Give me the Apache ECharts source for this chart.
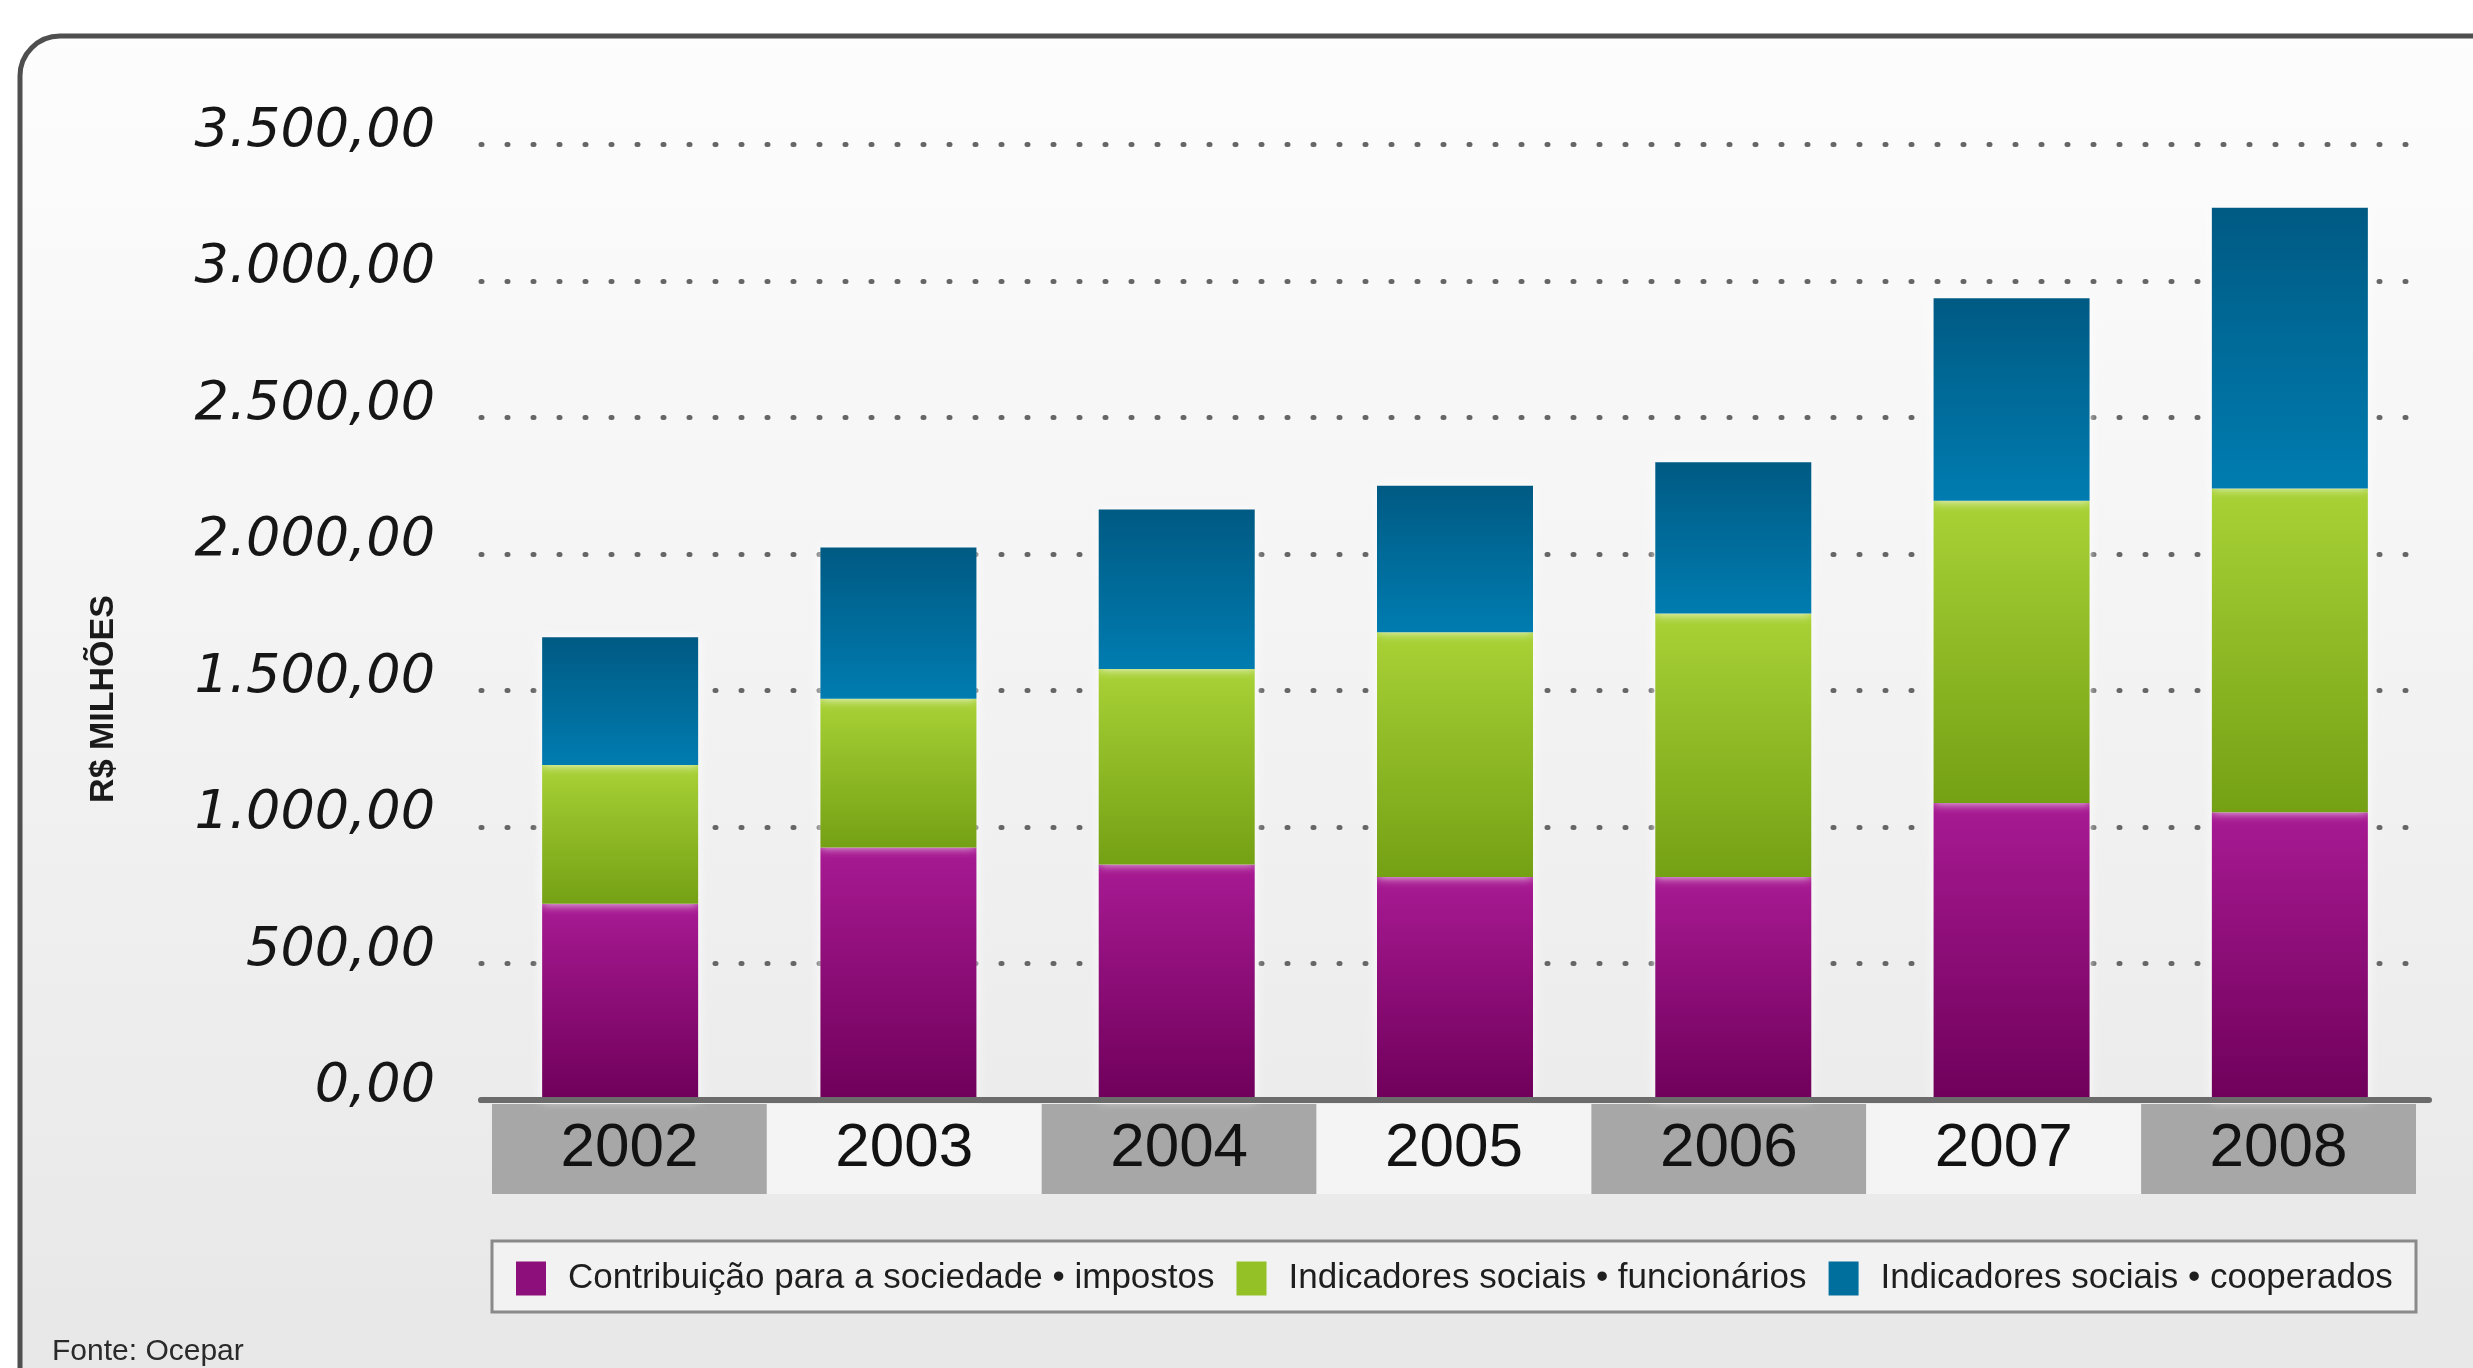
<!DOCTYPE html>
<html>
<head>
<meta charset="utf-8">
<script src="https://cdn.jsdelivr.net/npm/echarts@6/dist/echarts.min.js"></script>
<style>
  html, body { margin: 0; padding: 0; background: #ffffff; }
  #chart { width: 2473px; height: 1368px; }
</style>
</head>
<body>
<div id="chart"></div>
<script>
// Years on the category axis
const years = ['2002', '2003', '2004', '2005', '2006', '2007', '2008'];

// Series names (legend order = stack order, bottom to top)
const seriesNames = [
  'Contribuição para a sociedade • impostos',
  'Indicadores sociais • funcionários',
  'Indicadores sociais • cooperados'
];

// Values in R$ millions
const impostos     = [719, 925, 863, 817, 817, 1088, 1054];
const funcionarios = [508, 545, 716, 896, 965, 1107, 1186];
const cooperados   = [468, 554, 584, 537, 554, 742, 1028];

// Value-axis ticks and their Brazilian-formatted labels
const yTicks      = [0, 500, 1000, 1500, 2000, 2500, 3000, 3500];
const yTickLabels = ['0,00', '500,00', '1.000,00', '1.500,00', '2.000,00', '2.500,00', '3.000,00', '3.500,00'];

const axisName = 'R$ MILHÕES';
const sourceText = 'Fonte: Ocepar';

function vGrad(top, bottom) {
  return {
    type: 'linear', x: 0, y: 0, x2: 0, y2: 1,
    colorStops: [{ offset: 0, color: top }, { offset: 1, color: bottom }]
  };
}

const barFills = [
  vGrad('#a81a93', '#6f005a'),
  vGrad('#a9d236', '#74a014'),
  vGrad('#005a83', '#007cb0')
];
const legendColors = ['#8d0f7b', '#93c126', '#006f9e'];
const seriesData = [impostos, funcionarios, cooperados];

const chart = echarts.init(document.getElementById('chart'));

const option = {
  animation: false,
  backgroundColor: '#ffffff',
  graphic: [
    {
      type: 'rect', z: -10,
      shape: { x: 20, y: 36, width: 2520, height: 1420, r: 40 },
      style: { fill: vGrad('#fdfdfd', '#e6e6e6'), stroke: '#4f4f4f', lineWidth: 5 }
    },
    {
      type: 'rect', z: -5,
      shape: { x: 492, y: 1241, width: 1924, height: 71 },
      style: { fill: '#f2f2f2', stroke: '#8a8a8a', lineWidth: 3 }
    },
    {
      type: 'text', z: 5,
      x: 104, y: 699, rotation: Math.PI / 2,
      style: {
        text: axisName, fill: '#1a1a1a',
        font: 'bold 34px "Liberation Sans", Arial, sans-serif',
        align: 'center', verticalAlign: 'middle'
      }
    },
    {
      type: 'text', z: 5,
      x: 52, y: 1352,
      style: {
        text: sourceText, fill: '#2a2a2a',
        font: '30px "Liberation Sans", Arial, sans-serif',
        align: 'left', verticalAlign: 'middle'
      }
    }
  ],
  legend: {
    left: 516, top: 1261, padding: 0,
    itemWidth: 30, itemHeight: 34, itemGap: 22,
    icon: 'rect',
    textStyle: {
      fontFamily: '"Liberation Sans", Arial, sans-serif',
      fontSize: 35, color: '#1e1e1e', padding: [0, 0, 0, 17]
    },
    data: seriesNames.map((n, i) => ({ name: n, itemStyle: { color: legendColors[i] } }))
  },
  grid: [
    { left: 481, right: 44, top: 144.5, bottom: 268 },
    { left: 492, right: 57, top: 1104, bottom: 174 }
  ],
  xAxis: [
    {
      type: 'category', gridIndex: 0, data: years, z: 3,
      axisLine: { show: true, lineStyle: { color: '#6b6b6b', width: 6 } },
      axisTick: { show: false },
      axisLabel: { show: false },
      splitLine: { show: false }
    },
    {
      type: 'category', gridIndex: 1, data: years, position: 'top',
      axisLine: { show: false },
      axisTick: { show: false },
      splitLine: { show: false },
      splitArea: { show: true, areaStyle: { color: ['#a7a7a7', '#f4f4f4'] } },
      axisLabel: {
        inside: true, margin: 45, verticalAlign: 'middle',
        fontFamily: '"Liberation Sans", Arial, sans-serif',
        fontSize: 62, color: '#121212'
      }
    }
  ],
  yAxis: [
    {
      type: 'value', gridIndex: 0, min: 0, max: 3500, interval: 500,
      axisLine: { show: false },
      axisTick: { show: false },
      splitLine: {
        show: true,
        lineStyle: { type: [1, 25], width: 5, cap: 'round', color: '#666666' }
      },
      axisLabel: {
        margin: 46,
        fontFamily: '"DejaVu Sans", sans-serif',
        fontStyle: 'italic', fontSize: 54, color: '#161616',
        verticalAlign: 'bottom', lineHeight: 26,
        formatter: v => yTickLabels[yTicks.indexOf(v)]
      }
    },
    { type: 'value', gridIndex: 1, min: 0, max: 1, show: false }
  ],
  series: seriesNames.map((name, i) => ({
    name: name,
    type: 'bar',
    stack: 'total',
    xAxisIndex: 0, yAxisIndex: 0,
    barWidth: 156,
    data: seriesData[i],
    itemStyle: {
      color: barFills[i],
      shadowColor: 'rgba(255,255,255,0.9)', shadowBlur: 10
    }
  }))
};

chart.setOption(option);
</script>
</body>
</html>
